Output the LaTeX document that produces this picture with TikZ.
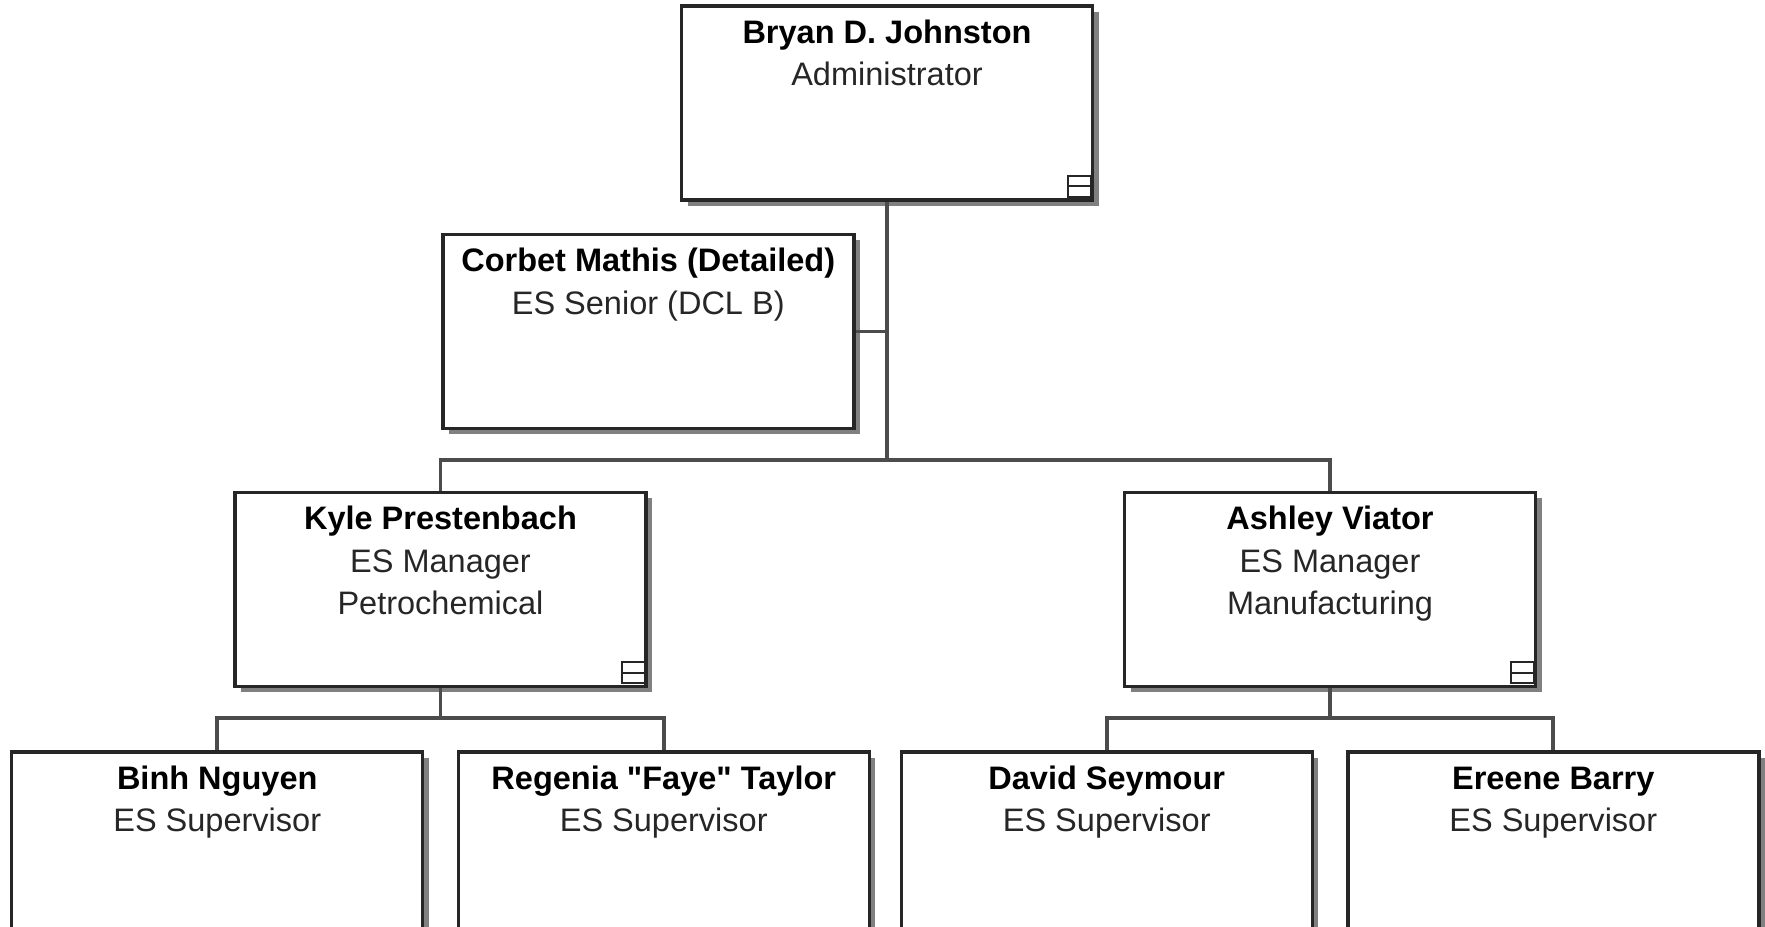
\documentclass[tikz,border=0pt]{standalone}
\usepackage{fontspec}
\newfontfamily\orgfont{Liberation Sans}
\usetikzlibrary{positioning,shadows}
\newcommand{\orgcard}[2]{\begin{tabular}[t]{@{}c@{}}{\bfseries\color{black}#1}\\#2\end{tabular}}

\begin{document}
\begin{tikzpicture}[
    node distance=0.64cm,
    box/.style={draw=black!85, line width=2pt, fill=white,
      drop shadow={shadow xshift=0.12cm, shadow yshift=-0.12cm, fill=black!50, opacity=1},
      minimum width=8.22cm, minimum height=3.88cm, inner ysep=0pt,
      text height=0.75cm, text depth=3.13cm,
      font=\orgfont\fontsize{18.5}{24}\selectfont, text=black!85},
    link/.style={draw=black!70, line width=2.2pt},
    icon/.style={draw=black!85, line width=1.2pt}
  ]
    \useasboundingbox (-8.81,-6.75) rectangle (26.49,11.79);

    \node[box] (kyle) {\orgcard{Kyle Prestenbach}{ES Manager\\Petrochemical}};
    \node[box, right=9.5cm of kyle] (ashley) {\orgcard{Ashley Viator}{ES Manager\\Manufacturing}};
    \node[box, above right=5.78cm and 0.64cm of kyle.north east] (admin) {\orgcard{Bryan D. Johnston}{Administrator}};
    \node[box, below left=0.62cm and 0.63cm of admin.south] (corbet) {\orgcard{Corbet Mathis (Detailed)}{ES Senior (DCL B)}};

    \node[box, below left=1.24cm and 0.32cm of kyle.south] (binh) {\orgcard{Binh Nguyen}{ES Supervisor}};
    \node[box, below right=1.24cm and 0.32cm of kyle.south] (regenia) {\orgcard{Regenia "Faye" Taylor}{ES Supervisor}};
    \node[box, below left=1.24cm and 0.32cm of ashley.south] (david) {\orgcard{David Seymour}{ES Supervisor}};
    \node[box, below right=1.24cm and 0.32cm of ashley.south] (ereene) {\orgcard{Ereene Barry}{ES Supervisor}};

    % connectors
    \coordinate[above=0.62cm of kyle.north] (kbus);
    \draw[link] (admin.south) -- (admin.south |- kbus);
    \draw[link] (corbet.east) -- (corbet.east -| admin.south);
    \draw[link] (kyle.north) -- (kbus) -| (ashley.north);
    \draw[link] (kyle.south) -- ++(0,-0.6) coordinate (kb) (binh.north) |- (kb) -| (regenia.north);
    \draw[link] (ashley.south) -- ++(0,-0.6) coordinate (ab) (david.north) |- (ab) -| (ereene.north);

    % collapse icons
    \foreach \n in {admin,kyle,ashley} {
      \draw[icon] ([shift={(-0.52cm,0.1cm)}]\n.south east) rectangle ([shift={(-0.06cm,0.52cm)}]\n.south east);
      \draw[icon] ([shift={(-0.52cm,0.31cm)}]\n.south east) -- ([shift={(-0.06cm,0.31cm)}]\n.south east);
    }
\end{tikzpicture}
\end{document}
